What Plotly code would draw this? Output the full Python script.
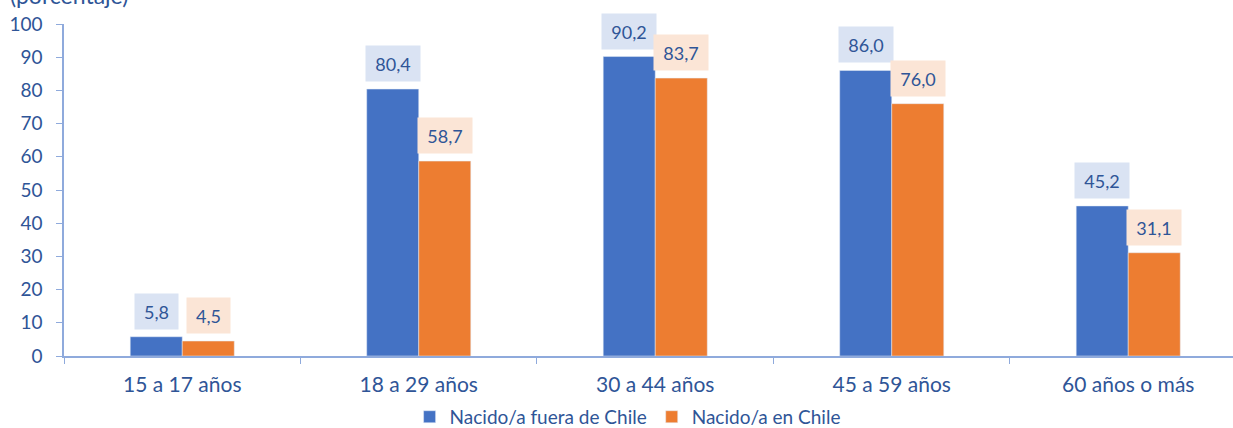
import plotly.graph_objects as go

categories = ["15 a 17 años", "18 a 29 años", "30 a 44 años", "45 a 59 años", "60 años o más"]
fuera = [5.8, 80.4, 90.2, 86.0, 45.2]
chile = [4.5, 58.7, 83.7, 76.0, 31.1]
series_names = ["Nacido/a fuera de Chile", "Nacido/a en Chile"]
title_text = "(porcentaje)"

BLUE = "#4472C4"
ORANGE = "#ED7D31"
TXT = "#2F5597"
AXIS = "#8FAADC"
FONT = "Lato"

def fmt(v):
    return f"{v:.1f}".replace(".", ",")

fig = go.Figure()
fig.add_trace(go.Bar(x=categories, y=fuera, name=series_names[0], marker_color=BLUE))
fig.add_trace(go.Bar(x=categories, y=chile, name=series_names[1], marker_color=ORANGE))

annotations = []
for vals, shift, bg in [(fuera, -26, "#DAE3F3"), (chile, 26, "#FBE5D6")]:
    for c, v in zip(categories, vals):
        txt = fmt(v)
        ndig = sum(ch.isdigit() for ch in txt)
        annotations.append(dict(
            x=c, y=v, xref="x", yref="y", text=txt, showarrow=False,
            xshift=shift, yshift=7, yanchor="bottom", xanchor="center",
            bgcolor=bg, width=11 * ndig + 17, height=31, borderpad=2,
            font=dict(family=FONT, size=18, color=TXT)))

annotations.append(dict(
    x=0.0, y=1.0, xref="paper", yref="paper", yanchor="bottom", xanchor="left",
    xshift=-56, yshift=13,
    text=title_text, showarrow=False,
    font=dict(family=FONT, size=23, color=TXT)))

fig.update_layout(
    width=1233, height=428,
    margin=dict(l=64, r=0, t=24, b=72, autoexpand=False),
    paper_bgcolor="white", plot_bgcolor="white",
    barmode="group", bargap=0.56, bargroupgap=0,
    font=dict(family=FONT, size=18, color=TXT),
    annotations=annotations,
    legend=dict(orientation="h", x=0.509, xref="container", xanchor="center",
                y=0.026, yref="container", yanchor="middle",
                font=dict(family=FONT, size=19, color=TXT), itemwidth=30,
                tracegroupgap=0),
    showlegend=True,
)
fig.update_xaxes(
    range=[-0.5, 4.443], showline=True, linecolor=AXIS, linewidth=1.5,
    ticks="outside", tickson="boundaries", ticklen=6, tickcolor=AXIS,
    showgrid=False, tickfont=dict(family=FONT, size=21, color=TXT),
    ticklabelstandoff=9, automargin=False, fixedrange=True)
fig.update_yaxes(
    range=[0, 100], dtick=10, showline=True, linecolor=AXIS, linewidth=1.5,
    ticks="outside", ticklen=6, tickcolor=AXIS, showgrid=False, zeroline=False,
    tickfont=dict(family=FONT, size=19, color=TXT),
    ticklabelstandoff=10, automargin=False, fixedrange=True)

fig.write_html("out.html", config={"displayModeBar": False},
               post_script="document.body.style.margin='0';document.body.style.overflow='hidden';")
